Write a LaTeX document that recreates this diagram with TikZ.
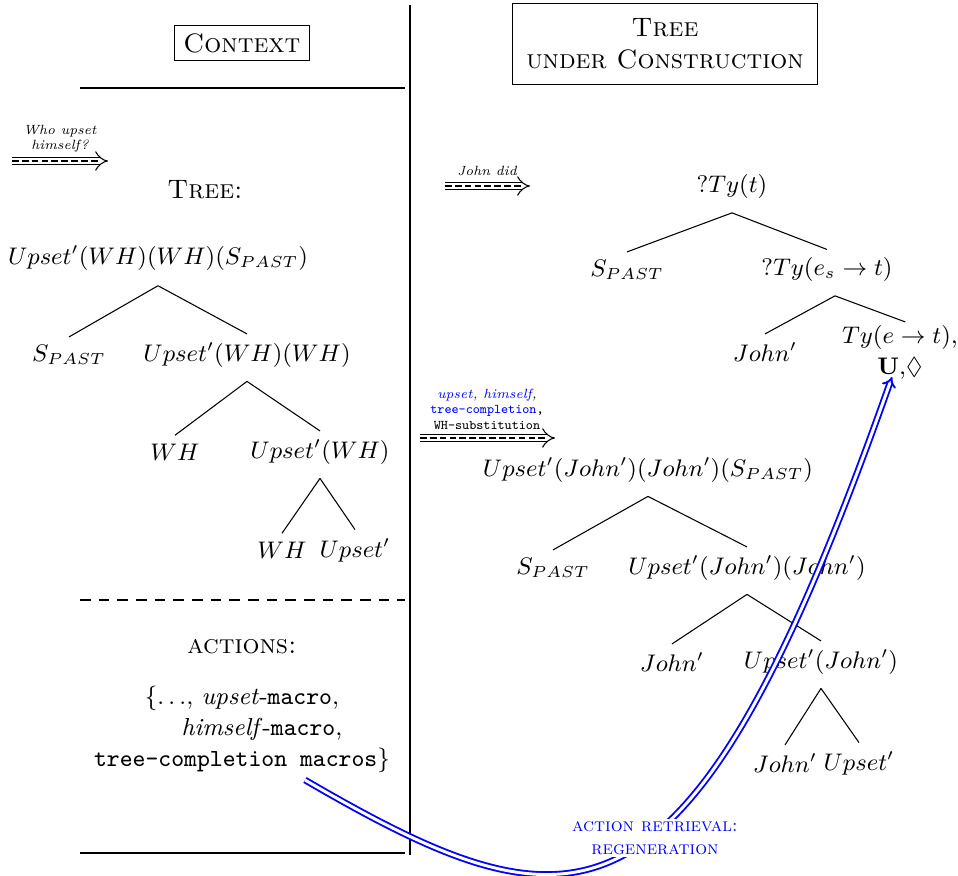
\documentclass[tikz,border=0pt]{standalone}
\usepackage{amssymb}
\usetikzlibrary{arrows}
\newcommand{\smalltxt}{\fontsize{5}{5.8}\selectfont}
\newcommand{\notetxt}{\fontsize{7}{8.6}\selectfont}
\newcommand{\treetxt}{\fontsize{9.2}{11.6}\selectfont}
\tikzset{
  tn/.style={inner sep=3pt, font=\treetxt},
  hdr/.style={draw, inner xsep=3.5pt, inner ysep=3pt},
  steplabel/.style={font=\smalltxt, align=center, inner sep=0pt},
  transarrow/.style={double, double distance=2.2pt, -implies},
  transmid/.style={dash pattern=on 2.5pt off 1.2pt, shorten >=3pt},
  regen/.style={blue, line width=0.7pt, double=white, double distance=1.1pt, -implies},
}
\begin{document}
\begin{tikzpicture}[x=0.375pt,y=-0.375pt]
\useasboundingbox (0,0) rectangle (958,876);

% column rules
\coordinate (vtop) at (410,5);
\coordinate (vbot) at (410,855);
\draw (vtop) -- (vbot);
\coordinate (h1a) at (80,88);   \coordinate (h1b) at (405,88);
\coordinate (h2a) at (80,600);  \coordinate (h2b) at (405,600);
\coordinate (h3a) at (80,853);  \coordinate (h3b) at (405,853);
\draw (h1a) -- (h1b);
\draw[dash pattern=on 4pt off 3pt] (h2a) -- (h2b);
\draw (h3a) -- (h3b);

% headers
\node[hdr] (ctx) at (242,43) {\textsc{Context}};
\node[hdr, align=center, inner xsep=5.3pt, inner ysep=5.6pt] (tuc) at (665,44)
  {\textsc{Tree}\\\textsc{under Construction}};

% ---- left column: context
\coordinate (a1s) at (12,161); \coordinate (a1e) at (108,161);
\draw[transarrow] (a1s) -- (a1e);
\draw[transmid] (a1s) -- (a1e);
\node[steplabel] (a1l) at (60,139) {\itshape Who upset\\\itshape himself?};

\node (treelbl) at (205,190) {\textsc{Tree:}};

\node[tn] (lr)  at (158,258) {$Upset'(WH)(WH)(S_{PAST})$};
\node[tn] (l1)  at (69,355)  {$S_{PAST}$};
\node[tn] (l2)  at (247,355) {$Upset'(WH)(WH)$};
\node[tn] (l21) at (175,452) {$WH$};
\node[tn] (l22) at (320,452) {$Upset'(WH)$};
\node[tn] (l221) at (282,550) {$WH$};
\node[tn] (l222) at (355,550) {$Upset'$};
\draw ([yshift=-2.5pt]lr.south) -- (l1.north);
\draw ([yshift=-2.5pt]lr.south) -- (l2.north);
\draw ([yshift=-2pt]l2.south) -- (l21.north);
\draw ([yshift=-2pt]l2.south) -- (l22.north);
\draw ([yshift=-2pt]l22.south) -- (l221.north);
\draw ([yshift=-2pt]l22.south) -- (l222.north);

\node (actlbl) at (242,647) {\textsc{actions:}};
\node[align=center, font=\treetxt] (acts) at (242,729)
  {\{$\ldots$, \emph{upset}-\texttt{macro},\\
   \hspace{15pt}\emph{himself}-\texttt{macro},\\
   \texttt{tree-completion macros}\}};

% ---- right column: tree under construction
\coordinate (a2s) at (445,186); \coordinate (a2e) at (530,186);
\draw[transarrow] (a2s) -- (a2e);
\draw[transmid] (a2s) -- (a2e);
\node[steplabel] (a2l) at (487,171) {\itshape John did};

\node[tn] (rr)  at (732,187) {$?Ty(t)$};
\node[tn] (r1)  at (627,270) {$S_{PAST}$};
\node[tn] (r2)  at (827,270) {$?Ty(e_s\rightarrow t)$};
\node[tn] (r21) at (765,352) {$John'$};
\node[tn, align=center] (r22) at (900,352) {$Ty(e\rightarrow t)$,\\$\mathbf{U}$,$\Diamond$};
\draw ([yshift=-2pt]rr.south) -- (r1.north);
\draw ([yshift=-2pt]rr.south) -- (r2.north);
\draw ([xshift=3pt,yshift=-2pt]r2.south) -- (r21.north);
\draw ([xshift=3pt,yshift=-2pt]r2.south) -- ([xshift=2pt,yshift=-2pt]r22.north);

\coordinate (a3s) at (420,438); \coordinate (a3e) at (555,438);
\draw[transarrow] (a3s) -- (a3e);
\draw[transmid] (a3s) -- (a3e);
\node[steplabel] (a3l) at (487,409)
  {\color{blue}\itshape upset, himself\color{black},\\
   \color{blue}\ttfamily tree-completion\color{black},\\
   \ttfamily WH-substitution};

\node[tn] (sr)  at (648,470) {$Upset'(John')(John')(S_{PAST})$};
\node[tn] (s1)  at (553,568) {$S_{PAST}$};
\node[tn] (s2)  at (747,568) {$Upset'(John')(John')$};
\node[tn] (s21) at (672,662) {$John'$};
\node[tn] (s22) at (821,662) {$Upset'(John')$};
\node[tn] (s221) at (785,763) {$John'$};
\node[tn] (s222) at (859,763) {$Upset'$};
\draw ([yshift=-2pt]sr.south) -- (s1.north);
\draw ([yshift=-2pt]sr.south) -- (s2.north);
\draw ([yshift=-2pt]s2.south) -- (s21.north);
\draw ([yshift=-2pt]s2.south) -- (s22.north);
\draw ([yshift=-2pt]s22.south) -- (s221.north);
\draw ([yshift=-2pt]s22.south) -- (s222.north);

% regeneration: stored actions re-run on the new tree
\coordinate (rs) at (305,780);
\coordinate (re) at (892,377);
\draw[regen] (rs) .. controls (580,940) and (690,950) .. (re);
\node[fill=white, align=center, text=blue, font=\notetxt, inner sep=1pt] (rlbl) at (655,838)
  {\textsc{action retrieval:}\\\textsc{regeneration}};
\end{tikzpicture}
\end{document}
